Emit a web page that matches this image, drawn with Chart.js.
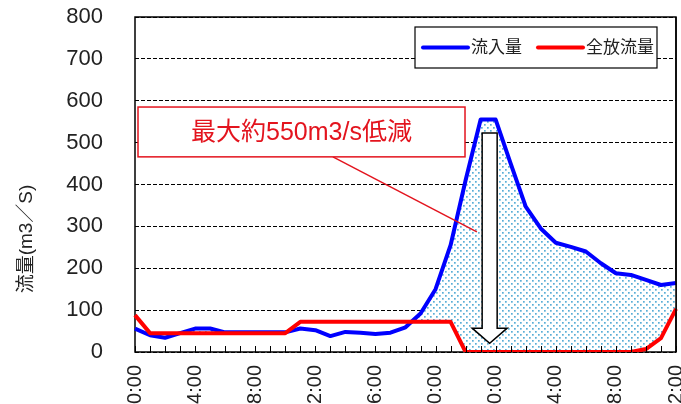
<!DOCTYPE html>
<html><head><meta charset="utf-8">
<script src="https://cdn.jsdelivr.net/npm/chart.js@4"></script>
<style>html,body{margin:0;padding:0;overflow:hidden;background:#fff;width:681px;height:404px}canvas{display:block}</style>
</head><body>
<canvas id="c" width="681" height="420" style="width:681px;height:420px"></canvas>
<script>
const timeLabels = ["0:00","1:00","2:00","3:00","4:00","5:00","6:00","7:00","8:00","9:00","10:00","11:00","12:00","13:00","14:00","15:00","16:00","17:00","18:00","19:00","20:00","21:00","22:00","23:00","0:00","1:00","2:00","3:00","4:00","5:00","6:00","7:00","8:00","9:00","10:00","11:00","12:00"];
const inflow = [56,40,34,45,56,56,47,47,47,47,47,56,52,38,48,46,43,46,59,92,150,255,410,555,555,450,347,295,261,251,240,212,188,184,172,160,165];
const release = [88,45,45,45,45,45,45,45,45,45,45,72,72,72,72,72,72,72,72,72,72,72,0,0,0,0,0,0,0,0,0,0,0,0,7,33,103];
const seriesNames = ["流入量","全放流量"];
const yMin = 0, yMax = 800, yStep = 100;
const yTitle = "流量(m3／S)";
const noteText = "最大約550m3/s低減";

const FONT = "'Liberation Sans','Noto Sans CJK JP',sans-serif";
const canvas = document.getElementById('c');
const ctx = canvas.getContext('2d');

function dotPattern(){
  const c = document.createElement('canvas'); c.width = 6; c.height = 6;
  const g = c.getContext('2d');
  g.fillStyle = '#ffffff'; g.fillRect(0,0,6,6);
  g.fillStyle = '#5aaed6';
  g.fillRect(1,1,1.7,1.7); g.fillRect(4,4,1.7,1.7);
  return ctx.createPattern(c,'repeat');
}

const decor = {
  id:'decor',
  beforeDatasetsDraw(chart){
    const {ctx, chartArea:a} = chart;
    ctx.save();
    ctx.strokeStyle = '#000'; ctx.lineWidth = 1.5; ctx.setLineDash([]);
    ctx.strokeRect(a.left, a.top, a.right-a.left, a.bottom-a.top);
    ctx.restore();
  },
  afterDatasetsDraw(chart){
    const {ctx, chartArea:a, scales:{x,y}} = chart;
    ctx.save();
    ctx.strokeStyle = '#000'; ctx.lineWidth = 1;
    for (let i = 0; i < timeLabels.length; i++){
      const px = Math.round(x.getPixelForValue(i)) + 0.5;
      ctx.beginPath(); ctx.moveTo(px, a.bottom); ctx.lineTo(px, a.bottom-6); ctx.stroke();
    }
    ctx.lineWidth = 1.5;
    ctx.beginPath(); ctx.moveTo(a.right, a.top); ctx.lineTo(a.right, a.bottom); ctx.stroke();
    // arrow
    const cx = x.getPixelForValue(23.6);
    const top = y.getPixelForValue(523), base = y.getPixelForValue(57), tip = y.getPixelForValue(21);
    const hw = 7.5, hh = 17.5;
    ctx.beginPath();
    ctx.moveTo(cx-hw, top); ctx.lineTo(cx+hw, top); ctx.lineTo(cx+hw, base);
    ctx.lineTo(cx+hh, base); ctx.lineTo(cx, tip); ctx.lineTo(cx-hh, base);
    ctx.lineTo(cx-hw, base); ctx.closePath();
    ctx.fillStyle = '#fff'; ctx.fill();
    ctx.strokeStyle = '#000'; ctx.lineWidth = 1.5; ctx.lineJoin = 'miter'; ctx.stroke();
    ctx.restore();
  },
  afterDraw(chart){
    const {ctx, chartArea:a, scales:{x,y}} = chart;
    ctx.save();
    ctx.translate(27, 239); ctx.rotate(-Math.PI/2);
    ctx.fillStyle = '#222'; ctx.font = "19px " + FONT;
    ctx.textAlign = 'center'; ctx.textBaseline = 'middle';
    ctx.fillText(yTitle, 0, 0);
    ctx.restore();

    ctx.save();
    const bx1 = x.getPixelForValue(0.2), bx2 = x.getPixelForValue(21.96);
    const by1 = y.getPixelForValue(585), by2 = y.getPixelForValue(466);
    ctx.strokeStyle = '#e3141e'; ctx.lineWidth = 1.5;
    ctx.beginPath();
    ctx.moveTo(x.getPixelForValue(13.17), by2);
    ctx.lineTo(x.getPixelForValue(22.75), y.getPixelForValue(287));
    ctx.stroke();
    ctx.fillStyle = '#fff';
    ctx.fillRect(bx1, by1, bx2-bx1, by2-by1);
    ctx.strokeRect(bx1, by1, bx2-bx1, by2-by1);
    ctx.fillStyle = '#e3141e'; ctx.font = "25px " + FONT;
    ctx.textAlign = 'center'; ctx.textBaseline = 'middle';
    ctx.fillText(noteText, (bx1+bx2)/2, (by1+by2)/2 + 1);
    ctx.restore();

    ctx.save();
    const lx1 = a.right - 261, lx2 = a.right - 19, ly1 = a.top + 10, ly2 = a.top + 51;
    ctx.fillStyle = '#fff'; ctx.fillRect(lx1, ly1, lx2-lx1, ly2-ly1);
    ctx.strokeStyle = '#000'; ctx.lineWidth = 1.2; ctx.strokeRect(lx1, ly1, lx2-lx1, ly2-ly1);
    const ly = (ly1+ly2)/2;
    ctx.font = "17px " + FONT; ctx.textBaseline = 'middle'; ctx.fillStyle = '#222';
    let px = lx1 + 8;
    chart.data.datasets.forEach((d) => {
      ctx.strokeStyle = d.borderColor; ctx.lineWidth = 4; ctx.lineCap = 'round';
      ctx.beginPath(); ctx.moveTo(px, ly); ctx.lineTo(px+45, ly); ctx.stroke();
      ctx.fillText(d.label, px+48, ly+1);
      px += 48 + ctx.measureText(d.label).width + 16;
    });
    ctx.restore();
  }
};

new Chart(ctx, {
  type:'line',
  data:{
    labels: timeLabels,
    datasets:[
      {label: seriesNames[0], data: inflow, borderColor:'#0000ff', borderWidth:4, pointRadius:0,
       tension:0, borderJoinStyle:'round', order:1,
       fill:{target:1, above: dotPattern(), below:'rgba(0,0,0,0)'}},
      {label: seriesNames[1], data: release, borderColor:'#ff0000', borderWidth:4, pointRadius:0,
       tension:0, borderJoinStyle:'round', order:0, fill:false}
    ]
  },
  options:{
    responsive:false, animation:false, devicePixelRatio:1,
    layout:{padding:{left:0, right:5, top:17, bottom:0}},
    plugins:{legend:{display:false}, tooltip:{enabled:false}},
    scales:{
      x:{
        grid:{display:false, drawTicks:false}, border:{display:false},
        ticks:{autoSkip:false, minRotation:90, maxRotation:90, padding:13, color:'#222',
               font:{family:FONT, size:20},
               callback:(v,i)=> (i % 4 === 0 ? timeLabels[i] : '')},
        afterFit(s){ s.height = 68; s.paddingLeft = 0; s.paddingRight = 0; }
      },
      y:{
        min:yMin, max:yMax,
        ticks:{stepSize:yStep, padding:32, color:'#222', font:{family:FONT, size:22}},
        grid:{color:'#000', lineWidth:1, drawTicks:false},
        border:{display:false, dash:[4,2]},
        afterFit(s){ s.width = 135; s.paddingTop = 0; s.paddingBottom = 0; }
      }
    }
  },
  plugins:[decor]
});
</script>
</body></html>
